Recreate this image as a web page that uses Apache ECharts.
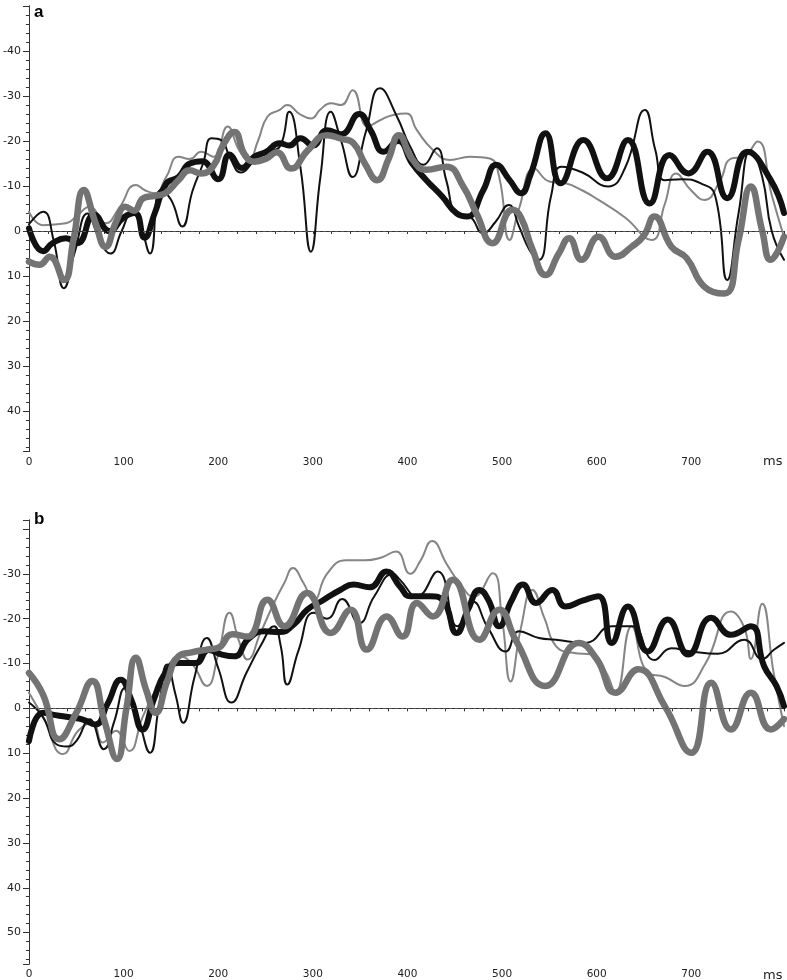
<!DOCTYPE html>
<html>
<head>
<meta charset="utf-8">
<script src="https://cdn.jsdelivr.net/npm/echarts@6/dist/echarts.min.js"></script>
<style>
  html, body { margin: 0; padding: 0; background: #fff; }
  #chart { width: 787px; height: 980px; }
</style>
</head>
<body>
<div id="chart"></div>
<script>
// [ms, value] pairs, negative is drawn upwards
var aThickBlack = [[0, -0.6], [15, 4.5], [25, 2.7], [39, 1.6], [51, 2.7], [69, -3.6], [85, 0], [100, -3], [112, -4],
  [122, 1.5], [133, -4], [145, -10.5], [158, -12], [170, -15], [183, -15.5], [200, -11.5], [212, -17], [225, -14],
  [238, -16.5], [250, -17.5], [265, -19.5], [275, -19], [287, -20.6], [300, -19], [315, -22.4], [330, -21.5],
  [349, -26], [361, -22.4], [375, -17.6], [390, -20], [405, -15], [420, -11.3], [437, -7.6], [452, -3.9], [463, -3.2],
  [480, -9], [494, -14.7], [508, -11.3], [520, -8.4], [530, -12.5], [546, -21.7], [562, -10.6], [586, -20.2],
  [611, -11.7], [633, -20.2], [656, -6.1], [677, -16.9], [697, -12.8], [717, -17.6], [738, -7.3], [759, -17.6],
  [784, -11.3], [798, -4]]

var aThinBlack = [[0, -1.5], [15, -4.3], [26, 2], [37, 12.7], [48, 5], [62, -3.9], [73, 1], [86, 5], [98, 0],
  [109, -4.3], [118, -1], [128, 5], [139, -9.1], [150, -7], [162, -1], [173, -9], [184, -15], [193, -20.6],
  [203, -20.2], [213, -16], [224, -13], [238, -15.5], [252, -17.6], [265, -18.7], [275, -26.5], [287, -14],
  [298, 4.6], [308, -12], [319, -26.5], [330, -20], [342, -12], [356, -22], [371, -31.7], [389, -25.4], [403, -18.7],
  [417, -14.7], [431, -18.4], [441, -11.3], [452, -3.9], [466, -3.2], [480, 0.5], [493, -2], [507, -5.8], [518, -1],
  [529, 4.2], [539, 6.4], [552, -8], [563, -14.3], [585, -13], [612, -9.9], [630, -14], [651, -26.9], [662, -18],
  [672, -11.3], [690, -11.5], [710, -10.6], [725, -8], [738, 10.9], [750, -4], [763, -18], [775, -12], [785, 0],
  [798, 6.4]]

var aThinGray = [[0, -4.3], [15, -1.3], [39, -1.7], [50, -3.2], [64, -5.4], [81, -1.7], [95, -5], [113, -10.2],
  [123, -9], [133, -8.4], [145, -12], [158, -16.5], [170, -16], [182, -17.6], [195, -16.5], [210, -23.2], [222, -18],
  [232, -15.8], [242, -20], [252, -25.4], [265, -26.9], [273, -28], [286, -26], [298, -25], [308, -27], [319, -28.4],
  [330, -28], [342, -31.3], [358, -23.2], [370, -24.5], [385, -25.8], [399, -26.1], [410, -22.4], [427, -18],
  [445, -15.8], [466, -16.5], [487, -16.1], [497, -12], [508, 2], [518, -5], [534, -13.9], [550, -11], [567, -10.6],
  [585, -9], [602, -6.9], [630, -3], [658, 2], [672, -6], [684, -12.8], [700, -9], [714, -6.9], [730, -11],
  [742, -16.1], [755, -16.5], [770, -19.9], [785, -8], [798, 1.3]]

var aThickGray = [[0, 6.8], [11, 7.5], [22, 5.7], [37, 10.9], [47, 2], [58, -9.1], [70, -2], [81, 3.5], [92, -2],
  [102, -5.4], [111, -4.5], [121, -7.3], [133, -7.8], [144, -8.4], [158, -11.3], [170, -13.5], [182, -12.8],
  [195, -14.5], [205, -19], [217, -22], [228, -17], [238, -15.4], [250, -16], [262, -17.5], [277, -13.9], [295, -18],
  [315, -21.3], [330, -20.5], [343, -19.5], [355, -15], [368, -11.3], [380, -16], [391, -21.3], [405, -16],
  [420, -13.6], [441, -14.3], [459, -9.9], [473, -3.9], [490, 2.7], [511, -4.7], [520, -3], [532, 4], [546, 9.8],
  [560, 5], [571, 1.6], [584, 6.4], [602, 1.3], [620, 5.7], [637, 3.5], [650, 1], [661, -3.2], [679, 3.5], [695, 6],
  [714, 12.4], [735, 13.9], [750, 2], [763, -9.9], [775, 0], [784, 6.4], [798, 1.3]]

var bThickBlack = [[0, 7.3], [15, 1], [28, 1.5], [43, 2], [57, 2.5], [70, 3.6], [83, -1], [97, -6.4], [108, -2],
  [120, 4.7], [132, -2], [144, -7.9], [158, -10.1], [176, -10.1], [190, -13], [204, -12], [217, -11.6], [232, -15.5],
  [249, -17.2], [265, -17], [280, -18.7], [294, -22], [310, -24], [329, -26.4], [343, -27.6], [360, -27], [378, -30.5],
  [392, -27.2], [403, -25], [424, -25], [438, -24], [452, -16.8], [464, -22], [476, -26.4], [486, -24], [497, -18.3],
  [510, -24], [522, -27.6], [536, -23.5], [553, -26.4], [567, -22.7], [585, -24], [602, -25], [616, -14.6],
  [633, -22.7], [654, -12.7], [675, -19.8], [697, -12], [721, -20.2], [742, -16.4], [763, -18.3], [777, -9.4],
  [790, -5], [798, -0.5]]

var bThinBlack = [[0, -1.3], [15, 2], [29, 8], [40, 8.5], [50, 7.3], [64, 2.4], [79, 9.1], [90, 3], [102, -4.6],
  [115, 2], [128, 9.9], [137, 0], [146, -9.8], [155, -3], [163, 3.2], [175, -7], [188, -15.7], [200, -9], [214, -1.3],
  [230, -8], [245, -14], [259, -18.3], [266, -14], [273, -5.3], [285, -13], [301, -21.3], [315, -20], [331, -24.4],
  [349, -19], [365, -25], [385, -30], [392, -28.7], [410, -25], [432, -30.5], [453, -18.3], [469, -23.8], [485, -18],
  [504, -12.7], [518, -17.2], [539, -15.7], [557, -15.3], [588, -14.6], [616, -18.3], [637, -18.3], [661, -10.8],
  [679, -13.4], [700, -12.7], [728, -12.2], [756, -15.3], [775, -11], [787, -13], [798, -14.6]]

var bThinGray = [[0, -3.5], [15, 2], [36, 10.2], [52, 5], [67, 3.2], [78, 7.6], [92, 5], [106, 9.5], [120, 2],
  [134, -4.2], [146, -9], [158, -11.6], [172, -10], [188, -5], [200, -12], [212, -21.3], [222, -15], [231, -10.9],
  [245, -17], [259, -23.5], [270, -28], [279, -31.3], [290, -28], [301, -24.2], [315, -30], [335, -33], [355, -33],
  [372, -33.6], [388, -35], [403, -30], [414, -33], [426, -37.3], [442, -32], [455, -28], [470, -24.9], [490, -30.1],
  [500, -20], [509, -6], [520, -18], [532, -26.4], [545, -20], [557, -13.9], [575, -12.4], [595, -12], [610, -8],
  [620, -3.5], [637, -18.3], [654, -8], [672, -7], [693, -5], [715, -10], [742, -21.6], [756, -18], [763, -11],
  [775, -23.3], [787, -8], [798, 4]]

var bThickGray = [[0, -7.9], [15, -3], [32, 6.9], [50, 1], [67, -6.1], [80, 3], [93, 11.3], [103, 0], [113, -11.3],
  [124, -4], [134, 1], [146, -6], [158, -11.6], [172, -12.5], [188, -13.1], [200, -13.5], [215, -16.5], [231, -16],
  [252, -24.2], [270, -18.3], [294, -25.7], [319, -16.8], [340, -22], [357, -13.1], [378, -20.5], [395, -16],
  [410, -23.5], [427, -20.5], [448, -28.7], [476, -15.3], [497, -22], [515, -15], [546, -5], [581, -14.6], [600, -11],
  [620, -3.5], [644, -8.7], [672, -0.5], [700, 9.9], [721, -5.7], [742, 4.7], [763, -3.5], [784, 4.7], [798, 2.4]]

// axis ranges and labelled tick range per panel
var aRange = [-50, 49]
var bRange = [-42, 57]
var aLabels = [-40, 40]
var bLabels = [-30, 50]
var timeRange = [0, 798]

var font = 'DejaVu Sans'
var axisColor = '#333'

function xAxisFor (grid) {
  return {
    type: 'value', gridIndex: grid, min: timeRange[0], max: timeRange[1], interval: 20,
    axisLine: { lineStyle: { color: axisColor, width: 1 } },
    axisTick: { length: 3, lineStyle: { color: axisColor } },
    axisLabel: {
      fontFamily: font, fontSize: 10.5, color: '#222', margin: 5,
      formatter: function (v) { return v % 100 === 0 && v <= 700 ? String(v) : '' }
    },
    splitLine: { show: false }
  }
}

function yAxesFor (grid, range, labels) {
  var major = {
    type: 'value', gridIndex: grid, inverse: true, position: 'left',
    min: range[0], max: range[1], splitNumber: 10, minInterval: 10, maxInterval: 10,
    axisLine: { show: true, lineStyle: { color: axisColor, width: 1 } },
    axisTick: { show: true, length: 6, lineStyle: { color: axisColor } },
    axisLabel: {
      fontFamily: font, fontSize: 11, color: '#222', margin: 8,
      formatter: function (v) { return (v % 10 === 0 && v >= labels[0] && v <= labels[1]) ? String(v) : '' }
    },
    splitLine: { show: false }
  }
  var minor = {
    type: 'value', gridIndex: grid, inverse: true, position: 'left', offset: 0,
    min: range[0], max: range[1], interval: 2,
    axisLine: { show: true, lineStyle: { color: axisColor, width: 1 } },
    axisTick: { show: true, length: 3, lineStyle: { color: axisColor } },
    axisLabel: { show: false },
    splitLine: { show: false }
  }
  return [major, minor]
}

function wave (data, grid, color, width, withZero) {
  var s = {
    type: 'line', xAxisIndex: grid, yAxisIndex: grid * 2, data: data,
    smooth: 0.5, showSymbol: false, symbol: 'none', silent: true,
    lineStyle: { color: color, width: width, cap: 'round', join: 'round' }
  }
  if (withZero) {
    s.markLine = {
      silent: true, symbol: ['none', 'none'], label: { show: false },
      lineStyle: { color: '#555', width: 1, type: [3, 3] },
      data: [{ yAxis: 0 }]
    }
  }
  return s
}

var chart = echarts.init(document.getElementById('chart'), null, { renderer: 'canvas' })

chart.setOption({
  animation: false,
  backgroundColor: '#fff',
  title: [
    { text: 'a', left: 34, top: 4, padding: 0, textStyle: { fontFamily: 'Liberation Sans', fontWeight: 'bold', fontSize: 17, color: '#000' } },
    { text: 'b', left: 34, top: 511, padding: 0, textStyle: { fontFamily: 'Liberation Sans', fontWeight: 'bold', fontSize: 17, color: '#000' } }
  ],
  grid: [
    { left: 26, top: 6, width: 761, height: 445.5 },
    { left: 26, top: 520, width: 761, height: 445.5 }
  ],
  xAxis: [xAxisFor(0), xAxisFor(1)],
  yAxis: yAxesFor(0, aRange, aLabels).concat(yAxesFor(1, bRange, bLabels)),
  graphic: [
    { type: 'text', left: 763, top: 455, style: { text: 'ms', font: '13px "DejaVu Sans"', fill: '#222' } },
    { type: 'text', left: 763, top: 969, style: { text: 'ms', font: '13px "DejaVu Sans"', fill: '#222' } }
  ],
  series: [
    wave(aThinGray, 0, '#858585', 2, true),
    wave(aThinBlack, 0, '#111', 2, false),
    wave(aThickBlack, 0, '#111', 6, false),
    wave(aThickGray, 0, '#737373', 6.5, false),
    wave(bThinGray, 1, '#858585', 2, true),
    wave(bThinBlack, 1, '#111', 2, false),
    wave(bThickBlack, 1, '#111', 6, false),
    wave(bThickGray, 1, '#737373', 6.5, false)
  ]
})
</script>
</body>
</html>
